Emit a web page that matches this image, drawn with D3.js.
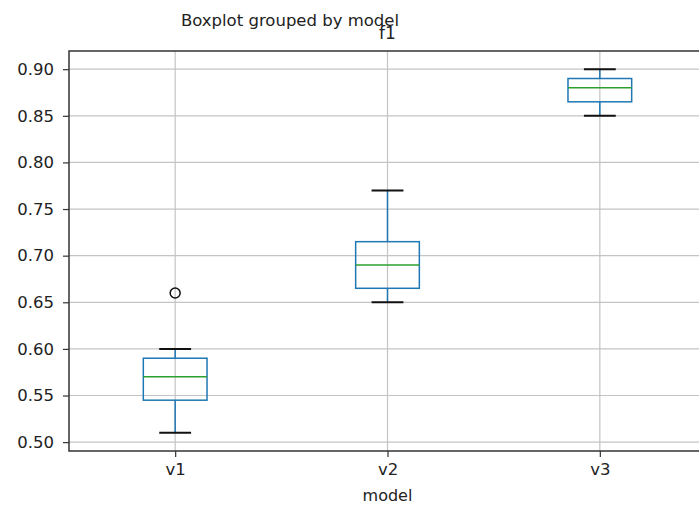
<!DOCTYPE html>
<html lang="en">
  <head>
    <title>Boxplot grouped by model</title>
    <meta charset="utf-8">
    <script src="https://d3js.org/d3.v7.min.js"></script>
    <style>
      body {
        margin: 0;
        overflow: hidden;
        background: #fff;
      }
      text {
        font-family: "DejaVu Sans", sans-serif;
        fill: #222;
      }
    </style>
  </head>
  <body>
    <div id="main"></div>
    <script>
      var models = ["v1", "v2", "v3"];
      var whiskerLow = [0.51, 0.65, 0.85];
      var q1 = [0.545, 0.665, 0.865];
      var median = [0.57, 0.69, 0.88];
      var q3 = [0.59, 0.715, 0.89];
      var whiskerHigh = [0.60, 0.77, 0.90];
      var outliers = [[0.66], [], []];
      var yTicks = [0.50, 0.55, 0.60, 0.65, 0.70, 0.75, 0.80, 0.85, 0.90];

      var width = 699, height = 508;
      var plotLeft = 69, plotRight = 706, plotTop = 51, plotBottom = 451;

      var svg = d3.select("#main").append("svg")
        .attr("width", width)
        .attr("height", height);

      var x = d3.scaleLinear().domain([0.5, 3.5]).range([plotLeft, plotRight]);
      var y = d3.scaleLinear().domain([0.4905, 0.9195]).range([plotBottom, plotTop]);

      // grid
      svg.append("g").selectAll("line").data(yTicks).enter().append("line")
        .attr("x1", plotLeft).attr("x2", plotRight)
        .attr("y1", function(d) { return y(d); })
        .attr("y2", function(d) { return y(d); })
        .attr("stroke", "#c4c4c4").attr("stroke-width", 1.2);
      svg.append("g").selectAll("line").data(models).enter().append("line")
        .attr("x1", function(d, i) { return x(i + 1); })
        .attr("x2", function(d, i) { return x(i + 1); })
        .attr("y1", plotTop).attr("y2", plotBottom)
        .attr("stroke", "#c4c4c4").attr("stroke-width", 1.2);

      // axes
      var yAxis = svg.append("g")
        .attr("transform", "translate(" + plotLeft + ",0)")
        .call(d3.axisLeft(y).tickValues(yTicks).tickSize(6).tickPadding(9).tickFormat(d3.format(".2f")));
      var xAxis = svg.append("g")
        .attr("transform", "translate(0," + plotBottom + ")")
        .call(d3.axisBottom(x).tickValues([1, 2, 3]).tickSize(6).tickPadding(6)
          .tickFormat(function(d) { return models[d - 1]; }));
      [yAxis, xAxis].forEach(function(a) {
        a.select(".domain").remove();
        a.selectAll("line").attr("stroke", "#333").attr("stroke-width", 1.2);
        a.selectAll("text").style("font-size", "16.5px").attr("fill", "#222");
      });

      // frame
      svg.append("rect")
        .attr("x", plotLeft).attr("y", plotTop)
        .attr("width", plotRight - plotLeft).attr("height", plotBottom - plotTop)
        .attr("fill", "none").attr("stroke", "#333").attr("stroke-width", 1.5);

      // boxes
      var boxW = x(1.15) - x(1);
      var capW = x(1.075) - x(1);
      var g = svg.append("g").selectAll("g").data(models).enter().append("g")
        .attr("transform", function(d, i) { return "translate(" + x(i + 1) + ",0)"; });
      g.append("line")
        .attr("y1", function(d, i) { return y(whiskerLow[i]); })
        .attr("y2", function(d, i) { return y(q1[i]); })
        .attr("stroke", "#1f77b4").attr("stroke-width", 1.5);
      g.append("line")
        .attr("y1", function(d, i) { return y(q3[i]); })
        .attr("y2", function(d, i) { return y(whiskerHigh[i]); })
        .attr("stroke", "#1f77b4").attr("stroke-width", 1.5);
      g.append("rect")
        .attr("x", -boxW)
        .attr("width", 2 * boxW)
        .attr("y", function(d, i) { return y(q3[i]); })
        .attr("height", function(d, i) { return y(q1[i]) - y(q3[i]); })
        .attr("fill", "none").attr("stroke", "#1f77b4").attr("stroke-width", 1.5);
      g.append("line")
        .attr("x1", -boxW).attr("x2", boxW)
        .attr("y1", function(d, i) { return y(median[i]); })
        .attr("y2", function(d, i) { return y(median[i]); })
        .attr("stroke", "#2ca02c").attr("stroke-width", 1.5);
      ["low", "high"].forEach(function(k) {
        g.append("line")
          .attr("x1", -capW).attr("x2", capW)
          .attr("y1", function(d, i) { return y(k == "low" ? whiskerLow[i] : whiskerHigh[i]); })
          .attr("y2", function(d, i) { return y(k == "low" ? whiskerLow[i] : whiskerHigh[i]); })
          .attr("stroke", "#111").attr("stroke-width", 2);
      });
      g.selectAll("circle").data(function(d, i) { return outliers[i]; }).enter().append("circle")
        .attr("cy", function(d) { return y(d); })
        .attr("r", 5)
        .attr("fill", "none").attr("stroke", "#111").attr("stroke-width", 1.5);

      // titles
      svg.append("text")
        .attr("x", 290).attr("y", 26)
        .attr("text-anchor", "middle")
        .style("font-size", "16.5px")
        .text("Boxplot grouped by model");
      svg.append("text")
        .attr("x", (plotLeft + plotRight) / 2).attr("y", 39)
        .attr("text-anchor", "middle")
        .style("font-size", "17px")
        .text("f1");
      svg.append("text")
        .attr("x", (plotLeft + plotRight) / 2).attr("y", 501)
        .attr("text-anchor", "middle")
        .style("font-size", "16px")
        .text("model");
    </script>
  </body>
</html>
